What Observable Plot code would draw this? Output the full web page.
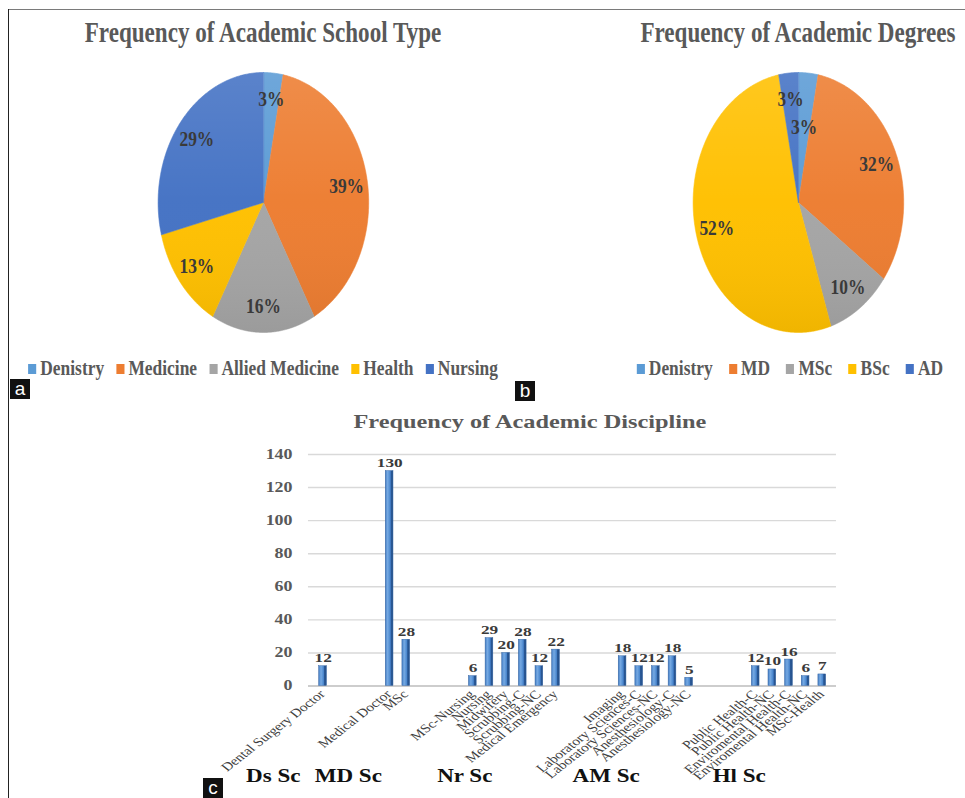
<!DOCTYPE html>
<html>
<head>
<meta charset="utf-8">
<script src="https://cdn.jsdelivr.net/npm/d3@7"></script>
<script src="https://cdn.jsdelivr.net/npm/@observablehq/plot@0.6"></script>
<style>
  html, body { margin: 0; padding: 0; background: #fff; }
  body { width: 965px; height: 798px; position: relative; overflow: hidden;
         font-family: "Liberation Serif", "Times New Roman", serif; }
  .rule-top { position: absolute; left: 8px; top: 9px; width: 957px; height: 0; border-top: 1.5px solid #7a7a7a; }
  .rule-left { position: absolute; left: 8px; top: 9px; width: 0; height: 789px; border-left: 1.5px solid #222; }

  /* pie panels are laid out at natural size, then narrowed */
  .panel { position: absolute; top: 0; width: 600px; height: 400px;
           transform: scaleX(0.81); transform-origin: 300px 0; }
  .ptitle { position: absolute; left: 0; width: 100%; top: 17px; text-align: center;
            font-weight: bold; font-size: 28.5px; line-height: 32px; color: #595959; white-space: nowrap; }
  .pchart { position: absolute; left: 0; top: 62px; }
  .pleg { position: absolute; left: 0; width: 100%; top: 352px; }
  .pleg [class*="-swatches"] { font-family: "Liberation Serif", "Times New Roman", serif !important;
            font-size: 21.5px !important; font-weight: bold; color: #595959; margin: 0 !important; }
  .pleg [class$="-swatches-wrap"] { justify-content: center; min-height: 33px; flex-wrap: nowrap !important; }
  .pleg [class$="-swatch"] { margin-right: 15px !important; white-space: nowrap; }
  #legB [class$="-swatch"] { margin-right: 20px !important; }
  .pleg [class$="-swatch"]:last-child { margin-right: 0 !important; }
  .pleg [class$="-swatch"] > svg { margin-right: 5px !important; }

  /* discipline bar chart, drawn at natural size, then widened */
  .barpanel { position: absolute; left: 0; top: 400px; width: 754px; height: 398px;
              transform: scaleX(1.28); transform-origin: 0 0; }
  .btitle { position: absolute; left: 0; width: 828px; top: 10px; text-align: center;
            font-weight: bold; font-size: 19px; line-height: 24px; color: #595959; white-space: nowrap; }
  .bchart { position: absolute; left: 0; top: 0; }

  .badge { position: absolute; background: #111; color: #fff; font-family: "Liberation Sans", Arial, sans-serif;
           font-size: 19px; line-height: 19px; text-align: center; width: 20px; height: 20px; }
</style>
</head>
<body>
<svg width="0" height="0" style="position:absolute">
  <defs>
    <linearGradient id="pieSheen" x1="0" y1="0" x2="0" y2="1">
      <stop offset="0" stop-color="#fff" stop-opacity="0.12"/>
      <stop offset="0.5" stop-color="#fff" stop-opacity="0.02"/>
      <stop offset="1" stop-color="#000" stop-opacity="0.06"/>
    </linearGradient>
    <linearGradient id="barFace" x1="0" y1="0" x2="1" y2="0">
      <stop offset="0" stop-color="#4680c6"/>
      <stop offset="0.3" stop-color="#76a9e2"/>
      <stop offset="0.6" stop-color="#4f8bd0"/>
      <stop offset="0.72" stop-color="#3a71b9"/>
      <stop offset="0.73" stop-color="#2a5997"/>
      <stop offset="1" stop-color="#24508a"/>
    </linearGradient>
  </defs>
</svg>

<div class="rule-top"></div>
<div class="rule-left"></div>

<div class="panel" id="panelA" style="left:-37.5px">
  <div class="ptitle">Frequency of Academic School Type</div>
  <div class="pchart" id="pieA"></div>
  <div class="pleg" id="legA"></div>
</div>

<div class="panel" id="panelB" style="left:498px">
  <div class="ptitle">Frequency of Academic Degrees</div>
  <div class="pchart" id="pieB"></div>
  <div class="pleg" id="legB"></div>
</div>

<div class="barpanel">
  <div class="btitle">Frequency of Academic Discipline</div>
  <div class="bchart" id="bars"></div>
</div>

<div class="badge" style="left:10px; top:379px;">a</div>
<div class="badge" style="left:515px; top:381px;">b</div>
<div class="badge" style="left:203px; top:778px;">c</div>

<script>
// School type shares (%)
const schoolTypes = ["Denistry", "Medicine", "Allied Medicine", "Health", "Nursing"];
const schoolShares = [3, 39, 16, 13, 29];

// Degree shares (%)
const degrees = ["Denistry", "MD", "MSc", "BSc", "AD"];
const degreeShares = [3, 32, 10, 52, 3];

const sliceColors = ["#5b9bd5", "#ed7d31", "#a5a5a5", "#ffc000", "#4472c4"];

// Discipline counts, with the school group each belongs to
const disciplines = [
  "Dental Surgery Doctor",
  "Medical Doctor", "MSc",
  "MSc-Nursing", "Nursing", "Midwifery", "Scrubbing-C", "Scrubbing-NC", "Medical Emergency",
  "Imaging", "Laboratory Sciences-C", "Laboratory Sciences-NC", "Anesthesiology-C", "Anesthesiology-NC",
  "Public Health-C", "Public Health-NC", "Enviromental Health-C", "Enviromental Health-NC", "MSc-Health"
];
const disciplineCounts = [12, 130, 28, 6, 29, 20, 28, 12, 22, 18, 12, 12, 18, 5, 12, 10, 16, 6, 7];
const disciplineGroup = [
  "Ds Sc",
  "MD Sc", "MD Sc",
  "Nr Sc", "Nr Sc", "Nr Sc", "Nr Sc", "Nr Sc", "Nr Sc",
  "AM Sc", "AM Sc", "AM Sc", "AM Sc", "AM Sc",
  "Hl Sc", "Hl Sc", "Hl Sc", "Hl Sc", "Hl Sc"
];
const groupLabels = ["Ds Sc", "MD Sc", "Nr Sc", "AM Sc", "Hl Sc"];
const countTicks = [0, 20, 40, 60, 80, 100, 120, 140];

const serif = '"Liberation Serif", "Times New Roman", serif';

function pieChart(names, shares, colors) {
  const arcs = d3.pie().sort(null).value(d => d.value)(names.map((name, i) => ({name, value: shares[i]})));
  // slice outlines as closed polygons on a unit circle (y up, angles clockwise from 12 o'clock)
  const wedges = [];
  for (const a of arcs) {
    wedges.push({name: a.data.name, x: 0, y: 0});
    const n = Math.max(2, Math.ceil((a.endAngle - a.startAngle) / 0.01));
    for (let k = 0; k <= n; k++) {
      const t = a.startAngle + (a.endAngle - a.startAngle) * k / n;
      wedges.push({name: a.data.name, x: Math.sin(t), y: Math.cos(t)});
    }
  }
  const rim = d3.range(0, 2 * Math.PI, 0.01).map(t => ({x: Math.sin(t), y: Math.cos(t)}));

  // percent labels; a label that would run into a later one is pulled toward the centre
  const R = 130;
  const labels = arcs.map(a => ({m: (a.startAngle + a.endAngle) / 2, text: a.data.value + "%", r: 0.8}));
  for (let i = 0; i < labels.length; i++) {
    for (let j = i + 1; j < labels.length; j++) {
      const dx = Math.abs(Math.sin(labels[i].m) - Math.sin(labels[j].m)) * 0.8 * R;
      const dy = Math.abs(Math.cos(labels[i].m) - Math.cos(labels[j].m)) * 0.8 * R;
      if (dx < 32 && dy < 22) labels[i].r = 0.58;
    }
  }
  for (const l of labels) { l.x = l.r * Math.sin(l.m); l.y = l.r * Math.cos(l.m); }

  return Plot.plot({
    width: 600, height: 280,
    marginLeft: 170, marginRight: 170, marginTop: 10, marginBottom: 10,
    x: {domain: [-1, 1], axis: null},
    y: {domain: [-1, 1], axis: null},
    color: {domain: names, range: colors},
    style: {background: "transparent", overflow: "visible", maxWidth: "none", fontFamily: serif},
    marks: [
      Plot.line(wedges, {x: "x", y: "y", z: "name", fill: "name", stroke: "name", strokeWidth: 0.6, curve: "linear-closed"}),
      Plot.line(rim, {x: "x", y: "y", fill: "url(#pieSheen)", stroke: "none", curve: "linear-closed"}),
      Plot.text(labels, {x: "x", y: "y", text: "text", fontSize: 21.5, fontWeight: "bold", fill: "#3a3a3a"})
    ]
  });
}

function pieLegend(names, colors) {
  return Plot.legend({
    color: {domain: names, range: colors, type: "ordinal", legend: "swatches", swatchSize: 10},
    swatchSize: 10
  });
}

document.getElementById("pieA").append(pieChart(schoolTypes, schoolShares, sliceColors));
document.getElementById("legA").append(pieLegend(schoolTypes, sliceColors));
document.getElementById("pieB").append(pieChart(degrees, degreeShares, sliceColors));
document.getElementById("legB").append(pieLegend(degrees, sliceColors));

// band domain: disciplines in order, with three empty bands between school groups
const slots = [];
disciplines.forEach((d, i) => {
  if (i > 0 && disciplineGroup[i] !== disciplineGroup[i - 1]) {
    for (let k = 0; k < 3; k++) slots.push(`gap ${i}.${k}`);
  }
  slots.push(d);
});
const rows = disciplines.map((name, i) => ({name, value: disciplineCounts[i]}));

// group names sit below the middle of their group (between two bands when the count is even)
const groupRows = groupLabels.map(label => {
  const items = disciplines.filter((d, i) => disciplineGroup[i] === label);
  return {label, at: items[Math.floor((items.length - 1) / 2)], even: items.length % 2 === 0};
});
const halfStep = 6.6;

const bars = Plot.plot({
  width: 754, height: 398,
  marginLeft: 240.6, marginRight: 100.9, marginTop: 54, marginBottom: 112.5,
  x: {type: "band", domain: slots, paddingInner: 0.526, paddingOuter: 0.41, axis: null},
  y: {domain: [0, 140], axis: null},
  style: {background: "transparent", overflow: "visible", maxWidth: "none", fontFamily: serif},
  marks: [
    Plot.ruleY(countTicks, {stroke: "#d9d9d9", strokeWidth: 1.4}),
    Plot.ruleY([0], {stroke: "#c6c6c6", strokeWidth: 1.6}),
    Plot.text(countTicks, {y: d => d, frameAnchor: "left", textAnchor: "end", dx: -12.6,
      text: d => String(d), fontSize: 14, fontWeight: "bold", fill: "#595959"}),
    Plot.barY(rows, {x: "name", y: "value", fill: "url(#barFace)", stroke: "#2f5f9e", strokeWidth: 0.4}),
    Plot.text(rows, {x: "name", y: "value", text: d => String(d.value), dy: -4, lineAnchor: "bottom",
      fontSize: 13.5, fontWeight: "bold", fill: "#3a3a3a"}),
    Plot.text(rows, {x: "name", frameAnchor: "bottom", text: "name", rotate: -45, textAnchor: "end",
      dx: 2, dy: 9, fontSize: 12, fill: "#404040"}),
    Plot.text(groupRows.filter(g => !g.even), {x: "at", frameAnchor: "bottom", text: "label", dx: -39, dy: 95.5,
      fontSize: 18, fontWeight: "bold", fill: "#111"}),
    Plot.text(groupRows.filter(g => g.even), {x: "at", frameAnchor: "bottom", text: "label", dx: -39 + halfStep, dy: 95.5,
      fontSize: 18, fontWeight: "bold", fill: "#111"})
  ]
});
document.getElementById("bars").append(bars);
</script>
</body>
</html>
